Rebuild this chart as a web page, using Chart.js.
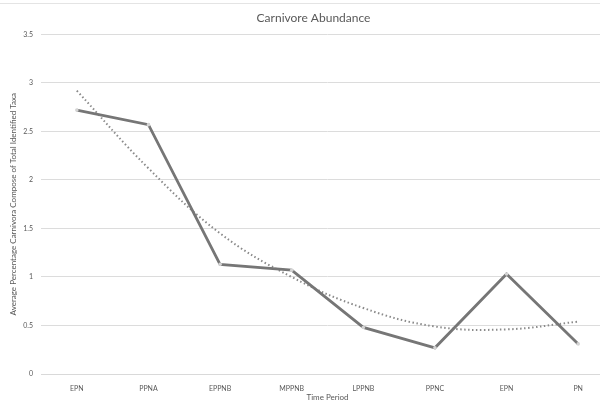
<!DOCTYPE html>
<html>
<head>
<meta charset="utf-8">
<script src="https://cdn.jsdelivr.net/npm/chart.js@4.4.1/dist/chart.umd.min.js"></script>
<style>
  html, body { margin: 0; padding: 0; background: #fff; overflow: hidden; }
  #wrap { width: 618px; height: 402px; position: relative; }
  #wrap::before { content: ""; position: absolute; left: 0; right: 0; top: 3px; border-top: 1px solid #e4e4e4; }
</style>
</head>
<body>
<div id="wrap"><canvas id="chart-carnivore" width="618" height="402"></canvas></div>
<script>
// DATA
const periods = ["EPN", "PPNA", "EPPNB", "MPPNB", "LPPNB", "PPNC", "EPN", "PN"];
const carnivoreAvg = [2.72, 2.57, 1.13, 1.07, 0.48, 0.27, 1.03, 0.31];
const trendValues = [2.92, 2.12, 1.45, 1.0, 0.68, 0.49, 0.46, 0.54];
const yTicks = [0, 0.5, 1, 1.5, 2, 2.5, 3, 3.5];

const textGrey = "#595959";
const fontFam = "Lato, 'Liberation Sans', sans-serif";

const ctx = document.getElementById("chart-carnivore").getContext("2d");
new Chart(ctx, {
  type: "line",
  data: {
    labels: periods,
    datasets: [
      {
        label: "Carnivore",
        data: carnivoreAvg,
        borderColor: "#767676",
        borderWidth: 2.8,
        tension: 0,
        pointRadius: 1.8,
        pointBackgroundColor: "#d4d4d4",
        pointBorderWidth: 0
      },
      {
        label: "Trend",
        data: trendValues,
        borderColor: "#8a8a8a",
        borderWidth: 2,
        borderDash: [1.5, 2.5],
        tension: 0.4,
        pointRadius: 0
      }
    ]
  },
  options: {
    responsive: false,
    animation: false,
    layout: { padding: { left: 9, right: 0, top: 0, bottom: 0 } },
    plugins: {
      legend: { display: false },
      tooltip: { enabled: false },
      title: {
        display: true,
        text: "Carnivore Abundance",
        color: textGrey,
        font: { family: fontFam, size: 12, weight: "normal" },
        padding: { top: 11, bottom: 9 }
      }
    },
    scales: {
      x: {
        offset: true,
        grid: { display: false },
        border: { display: true, color: "#d9d9d9" },
        ticks: { color: textGrey, font: { family: fontFam, size: 7 }, padding: 3, maxRotation: 0 },
        title: {
          display: true,
          text: "Time Period",
          color: textGrey,
          font: { family: fontFam, size: 8 },
          padding: { top: 1, bottom: 0 }
        },
        afterFit: s => { s.height = 28; }
      },
      y: {
        min: 0,
        max: 3.5,
        afterBuildTicks: s => { s.ticks = yTicks.map(v => ({ value: v })); },
        grid: { color: "#dcdcdc", drawTicks: false },
        border: { display: false },
        ticks: {
          color: textGrey,
          font: { family: fontFam, size: 7 },
          padding: 8,
          callback: v => String(v)
        },
        title: {
          display: true,
          text: "Average Percentage Carnivora Compose of Total Identified Taxa",
          color: textGrey,
          font: { family: fontFam, size: 8 },
          padding: { top: 0, bottom: 0 }
        },
        afterFit: s => { s.width = 32; }
      }
    }
  }
});
</script>
</body>
</html>
